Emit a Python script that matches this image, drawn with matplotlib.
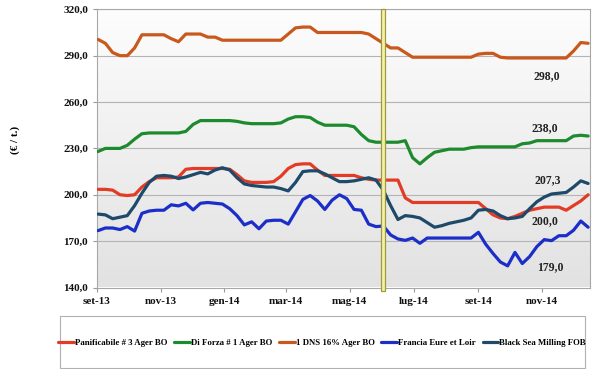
import pandas as pd
import matplotlib.pyplot as plt
from matplotlib.patches import Rectangle
import numpy as np

# weekly quotes, sep-2013 .. dec-2014
dates = pd.date_range('2013-09-02', periods=68, freq='7D')

panificabile = [203.5, 203.5, 203, 200, 199.5, 200, 205, 208.5, 211, 211,
                211, 211.5, 216.5, 217, 217, 217, 217, 217, 216.5, 213,
                209, 208, 208, 208, 208.5, 212, 217, 219.5, 220, 220,
                216, 212.5, 212.5, 212.5, 212.5, 212.5, 211, 210, 209.5, 209.5,
                209.5, 209.5, 198, 195, 195, 195, 195, 195, 195, 195,
                195, 195, 195, 191, 187, 185, 184.5, 186, 188, 190,
                191, 192, 192, 192, 190, 193, 196, 200.0]
di_forza = [228, 230, 230, 230, 232, 236, 239.5, 240, 240, 240,
            240, 240, 241, 245.5, 248, 248, 248, 248, 248, 247.5,
            246.5, 246, 246, 246, 246, 246.5, 249, 250.5, 250.5, 250,
            247, 245, 245, 245, 245, 244, 239, 235, 234, 234,
            234, 234, 235, 224, 220, 224, 227.5, 228.5, 229.5, 229.5,
            229.5, 230.5, 231, 231, 231, 231, 231, 231, 233, 233.5,
            235, 235, 235, 235, 235, 238, 238.5, 238.0]
dns = [300.5, 298, 292, 290, 290, 295, 303.5, 303.5, 303.5, 303.5,
       301, 299, 304, 304, 304, 302, 302, 300, 300, 300,
       300, 300, 300, 300, 300, 300, 304, 308, 308.5, 308.5,
       305, 305, 305, 305, 305, 305, 305, 304, 301, 298,
       295, 295, 292, 289, 289, 289, 289, 289, 289, 289,
       289, 289, 291, 291.5, 291.5, 289, 288.5, 288.5, 288.5, 288.5,
       288.5, 288.5, 288.5, 288.5, 288.5, 293, 298.5, 298.0]
francia = [176.8, 178.5, 178.5, 177.5, 179.4, 176.5, 188, 189.5, 190, 190,
           193.5, 192.8, 194.5, 190.2, 194.5, 195, 194.5, 194, 191, 186.5,
           180.5, 182.5, 178, 183, 183.5, 183.5, 181, 189, 197, 199.5,
           196, 190.5, 196.5, 200, 197.5, 190.5, 190, 181, 179.4, 179.8,
           174, 171.4, 170.5, 172, 168.6, 172, 172, 172, 172, 172,
           172, 172, 175.7, 168, 162, 156.5, 154, 162.7, 155.5, 160,
           166.5, 171, 170.3, 173.5, 173.5, 177, 183, 179.0]
black_sea = [187.5, 187, 184.5, 185.5, 186.5, 193, 201, 208, 212, 212.5,
             212, 210.5, 211.5, 213, 214.5, 213.5, 216, 217.5, 216, 211,
             207, 206, 205.5, 205, 205, 204, 202.5, 208, 215, 215.5,
             215.5, 213.5, 211, 208.5, 208.5, 209, 210, 211, 209.5, 203,
             193, 184, 186.5, 186, 185, 182, 179, 180, 181.5, 182.5,
             183.5, 185, 190, 190.5, 189.5, 186.5, 184.5, 185, 186, 191,
             195.5, 198.5, 200.5, 201, 201.5, 205, 209, 207.3]

series = [
    ('Panificabile # 3 Ager BO', panificabile, '#e23b26', (-43, -26)),
    ('Di Forza # 1 Ager BO', di_forza, '#1e8a2e', (-43, 8)),
    ('1 DNS 16% Ager BO', dns, '#c8581c', (-41, -33)),
    ('Francia Eure et Loir', francia, '#1c2ec8', (-38, -40)),
    ('Black Sea Milling FOB', black_sea, '#1d4a6b', (-40, 3)),
]

tick_dates = pd.date_range('2013-09-01', periods=8, freq='2MS')
tick_labels = ['set-13', 'nov-13', 'gen-14', 'mar-14', 'mag-14', 'lug-14', 'set-14', 'nov-14']
marker_date = pd.Timestamp('2014-06-02')

plt.rcParams['font.family'] = ['Liberation Serif', 'DejaVu Serif']
plt.rcParams['font.weight'] = 'bold'

fig = plt.figure(figsize=(6, 3.69), dpi=100)
ax = fig.add_axes([97 / 600, 1 - 287.5 / 369, 493 / 600, (287.5 - 9.3) / 369])

x0 = pd.Timestamp('2013-09-01')
x1 = x0 + pd.Timedelta(days=471.8)
ax.set_xlim(x0, x1)
ax.set_ylim(140, 320)

# plot area gradient
grad = np.linspace(0, 1, 256).reshape(-1, 1)
ax.imshow(grad, extent=[*ax.get_xlim(), 140, 320], aspect='auto',
          cmap=plt.matplotlib.colors.LinearSegmentedColormap.from_list('g', ['#e2e2e2', '#fdfdfd']),
          origin='lower', zorder=0)
ax.set_ylim(140, 320)

for y in range(170, 321, 30):
    ax.axhline(y, color='#b4b4b4', lw=0.8, zorder=1)

for name, vals, col, off in series:
    ax.plot(dates, vals, color=col, lw=2.3, label=name, zorder=3, solid_capstyle='round')
    ax.annotate(f'{vals[-1]:.1f}'.replace('.', ','), xy=(dates[-1], vals[-1]),
                xytext=off, textcoords='offset pixels', ha='center', va='center',
                fontsize=8.5, fontweight='bold', color='#222222')

# marker bar
mx = ax.xaxis.convert_units(marker_date)
ax.add_patch(Rectangle((mx - 2, 137.5), 4, 182.5, facecolor='#f3f0a8',
                       edgecolor='#9c9a3a', lw=0.9, zorder=4, clip_on=False))

ax.set_xticks(tick_dates)
ax.set_xticklabels(tick_labels)
ax.set_yticks(range(140, 321, 30))
ax.set_yticklabels([f'{v},0' for v in range(140, 321, 30)])
ax.tick_params(labelsize=8, colors='#999999', labelcolor='#111111', length=3, width=0.8)
for s in ax.spines.values():
    s.set_color('#a8a8a8')
    s.set_linewidth(0.8)

fig.text(15 / 600, 1 - 140 / 369, '(€ / t.)', rotation=90, ha='center', va='center',
         fontsize=8, fontweight='bold')

# legend box
fig.patches.append(Rectangle((60 / 600, 0.003), 525 / 600, (368 - 316) / 369,
                             transform=fig.transFigure, facecolor='white',
                             edgecolor='#b0b0b0', lw=0.8))
fig.legend(loc='center', bbox_to_anchor=(322 / 600, 1 - 343 / 369), ncol=5, frameon=False,
           handlelength=1.8, handletextpad=0.1, columnspacing=0.8,
           prop={'weight': 'bold', 'size': 6.3})

fig.savefig('out.png', dpi=100)
